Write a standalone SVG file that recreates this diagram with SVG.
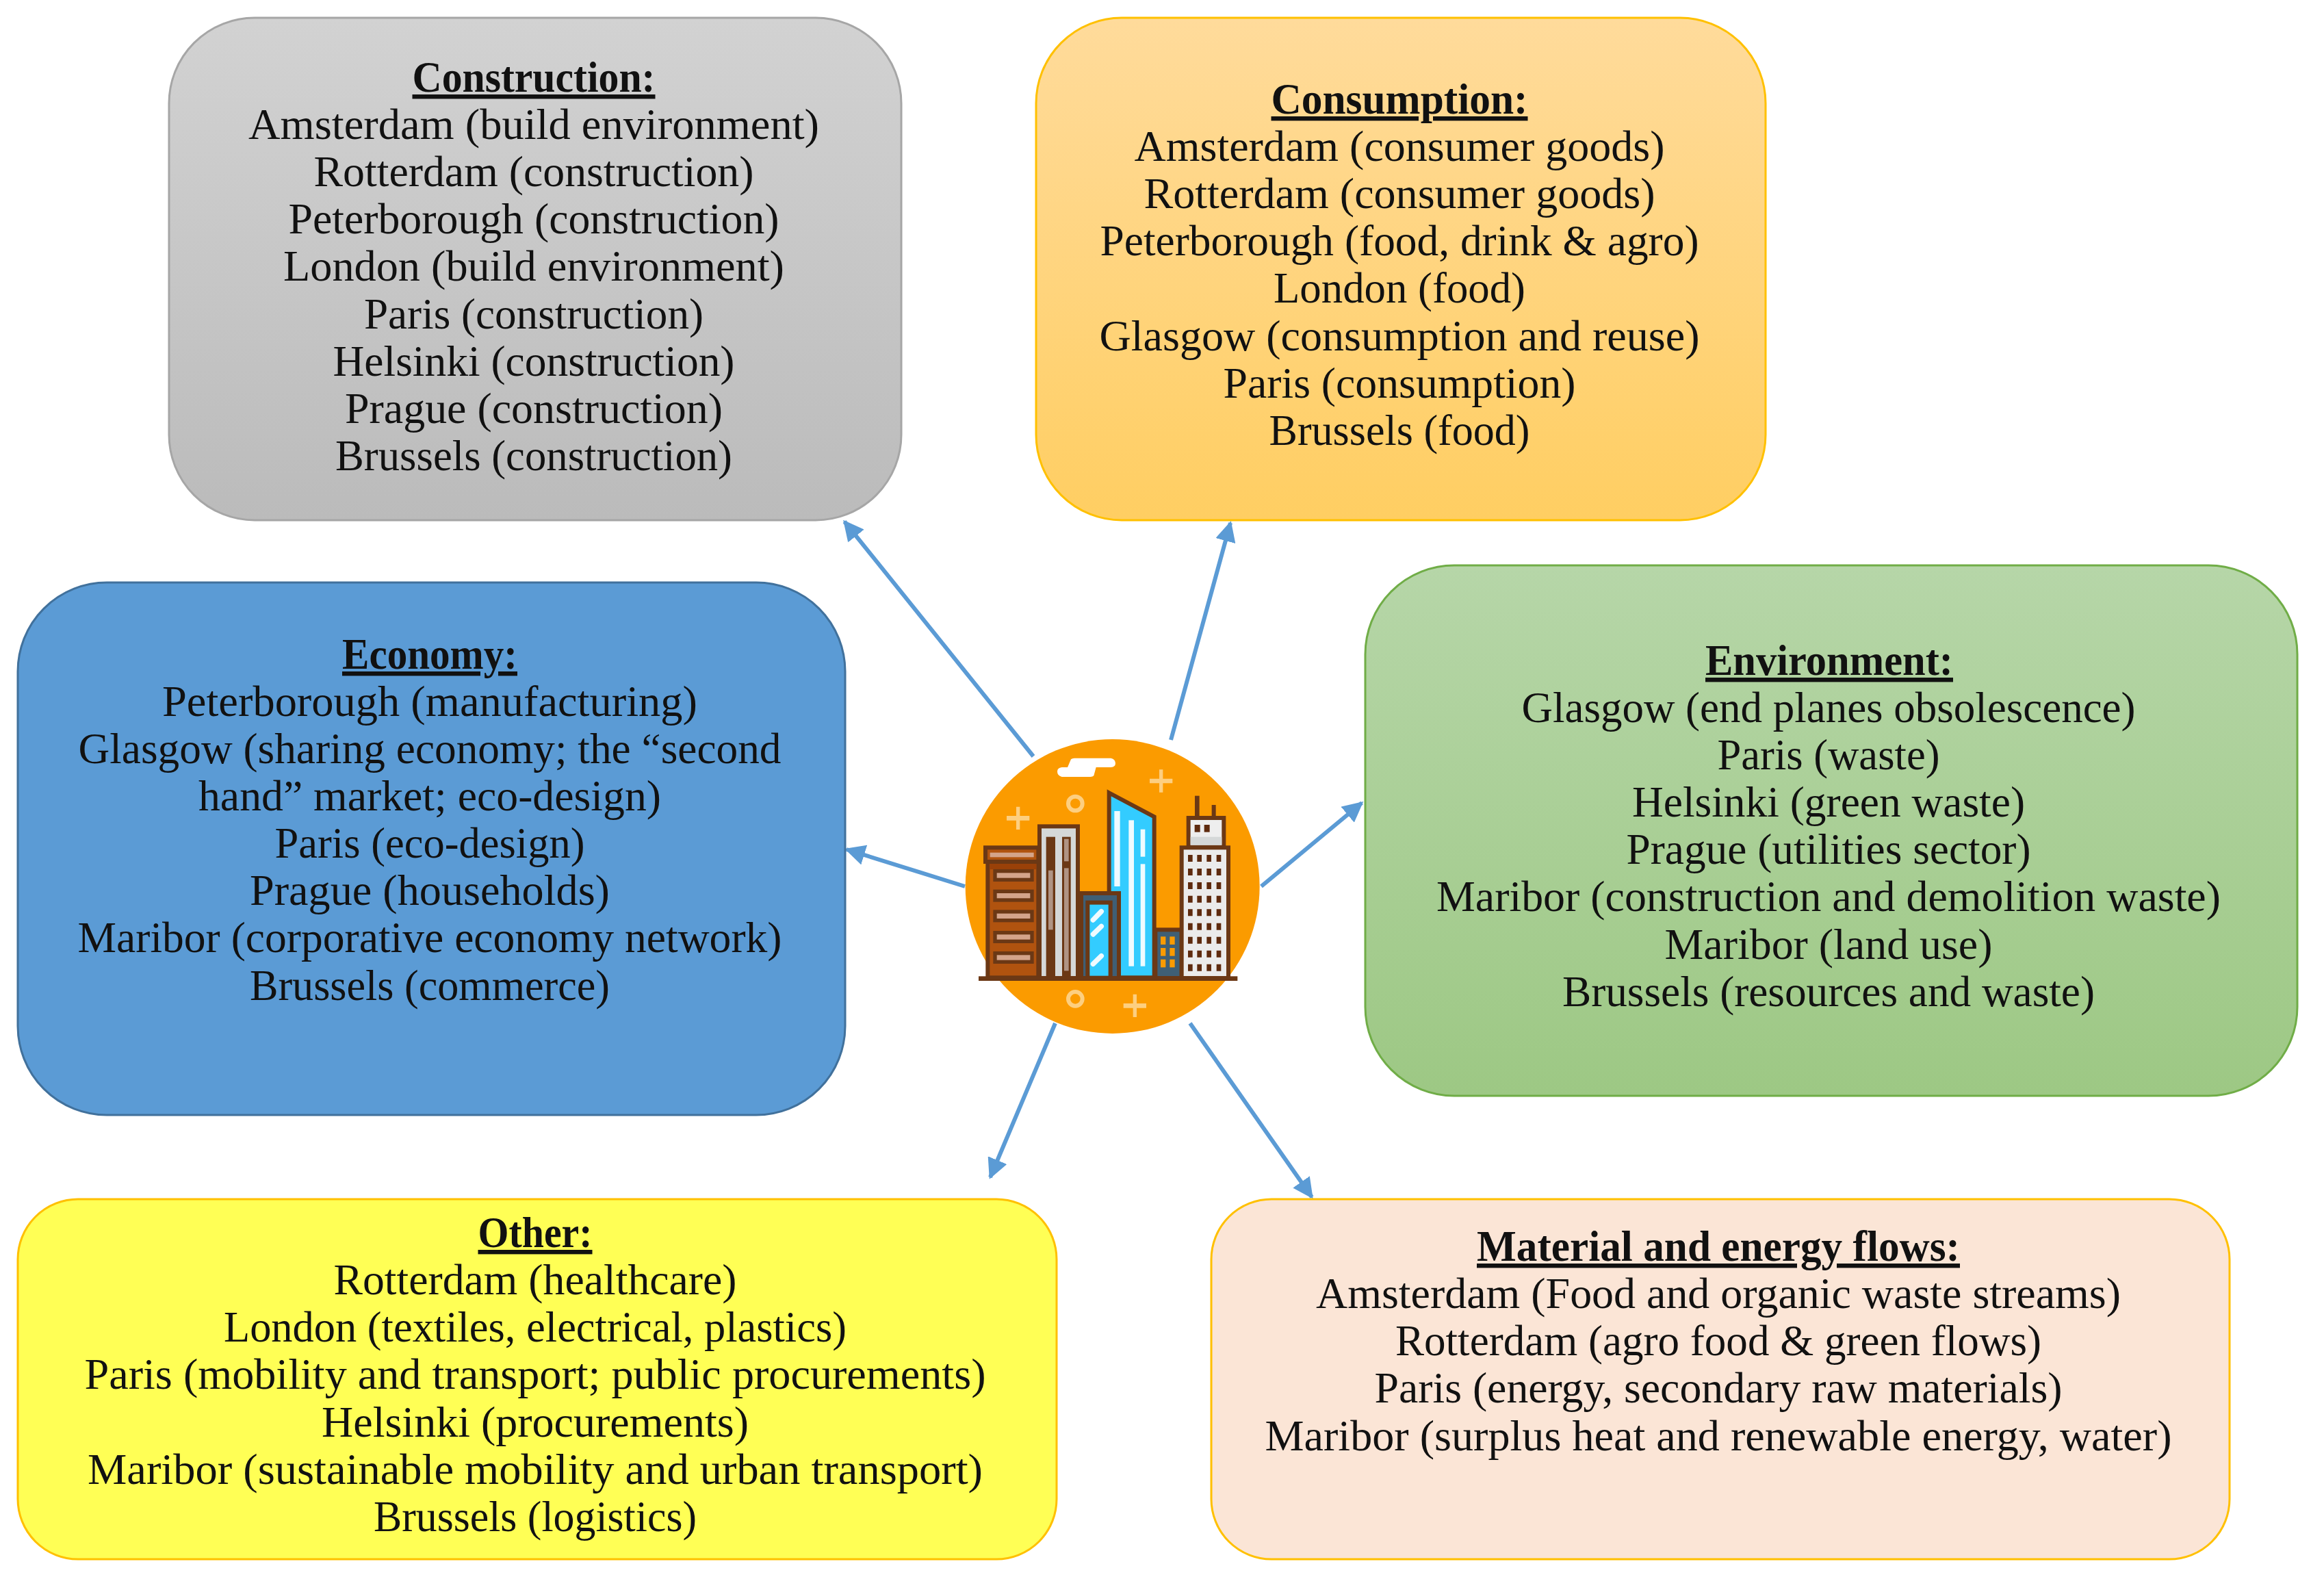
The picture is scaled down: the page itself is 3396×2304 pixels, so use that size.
<svg xmlns="http://www.w3.org/2000/svg" width="3396" height="2304" viewBox="0 0 3396 2304">
<style>
.box{stroke-width:3}
text{font-family:"Liberation Serif","DejaVu Serif",serif;font-size:64px;fill:#111;text-anchor:middle}
.h{font-weight:700;text-decoration:underline}
.conn line{stroke:#5B9BD5;stroke-width:6;marker-end:url(#arrow)}
.s{stroke:#6B3815;stroke-width:18}
.star{fill:#FDCF80}
.ring{fill:none;stroke:#FDCF80;stroke-width:18}
</style>
<defs>
<marker id="arrow" viewBox="0 0 10 10" refX="9" refY="5" markerWidth="5" markerHeight="5" orient="auto"><path d="M0 0L10 5L0 10z" fill="#5B9BD5"/></marker>
<linearGradient id="gGrey" x1="0" y1="0" x2="0" y2="1"><stop offset="0" stop-color="#D2D2D2"/><stop offset="1" stop-color="#BBBBBB"/></linearGradient>
<linearGradient id="gOrange" x1="0" y1="0" x2="0" y2="1"><stop offset="0" stop-color="#FFDB9B"/><stop offset="1" stop-color="#FFCE62"/></linearGradient>
<linearGradient id="gGreen" x1="0" y1="0" x2="0" y2="1"><stop offset="0" stop-color="#B6D6A8"/><stop offset="1" stop-color="#9DC884"/></linearGradient>
<path id="st" d="M-8-50H8V-10H50V10H8V50H-8V10H-50V-10H-8z"/>
</defs>
<rect width="3396" height="2304" fill="#fff"/>

<g id="connectors" class="conn">
<line x1="1510" y1="1105" x2="1234" y2="762"/>
<line x1="1711" y1="1081" x2="1798" y2="764"/>
<line x1="1410" y1="1295" x2="1237" y2="1241"/>
<line x1="1843" y1="1295" x2="1990" y2="1173"/>
<line x1="1542" y1="1495" x2="1447" y2="1720"/>
<line x1="1739" y1="1495" x2="1917" y2="1749"/>
</g>

<g id="construction">
<rect class="box" x="247" y="26" width="1070" height="734" rx="125" fill="url(#gGrey)" stroke="#A6A6A6"/>
<text class="h" x="780" y="134" textLength="355" lengthAdjust="spacingAndGlyphs">Construction:</text>
<text x="780" y="203" textLength="834" lengthAdjust="spacingAndGlyphs">Amsterdam (build environment)</text>
<text x="780" y="272" textLength="643" lengthAdjust="spacingAndGlyphs">Rotterdam (construction)</text>
<text x="780" y="341" textLength="717" lengthAdjust="spacingAndGlyphs">Peterborough (construction)</text>
<text x="780" y="410" textLength="732" lengthAdjust="spacingAndGlyphs">London (build environment)</text>
<text x="780" y="480" textLength="496" lengthAdjust="spacingAndGlyphs">Paris (construction)</text>
<text x="780" y="549" textLength="587" lengthAdjust="spacingAndGlyphs">Helsinki (construction)</text>
<text x="780" y="618" textLength="552" lengthAdjust="spacingAndGlyphs">Prague (construction)</text>
<text x="780" y="687" textLength="580" lengthAdjust="spacingAndGlyphs">Brussels (construction)</text>
</g>

<g id="consumption">
<rect class="box" x="1514" y="26" width="1066" height="734" rx="125" fill="url(#gOrange)" stroke="#FFC000"/>
<text class="h" x="2045" y="166" textLength="375" lengthAdjust="spacingAndGlyphs">Consumption:</text>
<text x="2045" y="235" textLength="775" lengthAdjust="spacingAndGlyphs">Amsterdam (consumer goods)</text>
<text x="2045" y="304" textLength="747" lengthAdjust="spacingAndGlyphs">Rotterdam (consumer goods)</text>
<text x="2045" y="373" textLength="875" lengthAdjust="spacingAndGlyphs">Peterborough (food, drink &amp; agro)</text>
<text x="2045" y="442" textLength="368" lengthAdjust="spacingAndGlyphs">London (food)</text>
<text x="2045" y="512" textLength="877" lengthAdjust="spacingAndGlyphs">Glasgow (consumption and reuse)</text>
<text x="2045" y="581" textLength="515" lengthAdjust="spacingAndGlyphs">Paris (consumption)</text>
<text x="2045" y="650" textLength="381" lengthAdjust="spacingAndGlyphs">Brussels (food)</text>
</g>

<g id="economy">
<rect class="box" x="26" y="851" width="1209" height="778" rx="130" fill="#5B9BD5" stroke="#41719C"/>
<text class="h" x="628" y="977" textLength="256" lengthAdjust="spacingAndGlyphs">Economy:</text>
<text x="628" y="1046" textLength="782" lengthAdjust="spacingAndGlyphs">Peterborough (manufacturing)</text>
<text x="628" y="1115" textLength="1027" lengthAdjust="spacingAndGlyphs">Glasgow (sharing economy; the “second</text>
<text x="628" y="1184" textLength="676" lengthAdjust="spacingAndGlyphs">hand” market; eco-design)</text>
<text x="628" y="1253" textLength="453" lengthAdjust="spacingAndGlyphs">Paris (eco-design)</text>
<text x="628" y="1322" textLength="526" lengthAdjust="spacingAndGlyphs">Prague (households)</text>
<text x="628" y="1391" textLength="1029" lengthAdjust="spacingAndGlyphs">Maribor (corporative economy network)</text>
<text x="628" y="1461" textLength="526" lengthAdjust="spacingAndGlyphs">Brussels (commerce)</text>
</g>

<g id="environment">
<rect class="box" x="1995" y="826" width="1362" height="775" rx="130" fill="url(#gGreen)" stroke="#70AD47"/>
<text class="h" x="2673" y="986" textLength="362" lengthAdjust="spacingAndGlyphs">Environment:</text>
<text x="2672" y="1055" textLength="897" lengthAdjust="spacingAndGlyphs">Glasgow (end planes obsolescence)</text>
<text x="2672" y="1124" textLength="325" lengthAdjust="spacingAndGlyphs">Paris (waste)</text>
<text x="2672" y="1193" textLength="574" lengthAdjust="spacingAndGlyphs">Helsinki (green waste)</text>
<text x="2672" y="1262" textLength="591" lengthAdjust="spacingAndGlyphs">Prague (utilities sector)</text>
<text x="2672" y="1331" textLength="1146" lengthAdjust="spacingAndGlyphs">Maribor (construction and demolition waste)</text>
<text x="2672" y="1401" textLength="479" lengthAdjust="spacingAndGlyphs">Maribor (land use)</text>
<text x="2672" y="1470" textLength="778" lengthAdjust="spacingAndGlyphs">Brussels (resources and waste)</text>
</g>

<g id="other">
<rect class="box" x="26" y="1752" width="1518" height="526" rx="88" fill="#FFFF55" stroke="#FFC000"/>
<text class="h" x="782" y="1822" textLength="167" lengthAdjust="spacingAndGlyphs">Other:</text>
<text x="782" y="1891" textLength="589" lengthAdjust="spacingAndGlyphs">Rotterdam (healthcare)</text>
<text x="782" y="1960" textLength="910" lengthAdjust="spacingAndGlyphs">London (textiles, electrical, plastics)</text>
<text x="782" y="2029" textLength="1317" lengthAdjust="spacingAndGlyphs">Paris (mobility and transport; public procurements)</text>
<text x="782" y="2099" textLength="624" lengthAdjust="spacingAndGlyphs">Helsinki (procurements)</text>
<text x="782" y="2168" textLength="1308" lengthAdjust="spacingAndGlyphs">Maribor (sustainable mobility and urban transport)</text>
<text x="782" y="2237" textLength="472" lengthAdjust="spacingAndGlyphs">Brussels (logistics)</text>
</g>

<g id="material">
<rect class="box" x="1770" y="1752" width="1488" height="526" rx="88" fill="#FBE5D6" stroke="#FFC000"/>
<text class="h" x="2511" y="1842" textLength="706" lengthAdjust="spacingAndGlyphs">Material and energy flows:</text>
<text x="2511" y="1911" textLength="1176" lengthAdjust="spacingAndGlyphs">Amsterdam (Food and organic waste streams)</text>
<text x="2511" y="1980" textLength="944" lengthAdjust="spacingAndGlyphs">Rotterdam (agro food &amp; green flows)</text>
<text x="2511" y="2049" textLength="1005" lengthAdjust="spacingAndGlyphs">Paris (energy, secondary raw materials)</text>
<text x="2511" y="2119" textLength="1325" lengthAdjust="spacingAndGlyphs">Maribor (surplus heat and renewable energy, water)</text>
</g>

<g id="city" transform="translate(1380 1050) scale(.33333)">
<circle cx="737" cy="735" r="645" fill="#FB9B00"/>
<path d="M495 232Q495 215 515 213H540L555 178Q560 173 570 173H730Q750 178 750 195Q750 212 730 213H665L655 250Q650 255 640 255H515Q495 250 495 232z" fill="#fff"/>
<use href="#st" x="323" y="436" class="star"/>
<use href="#st" x="950" y="273" class="star"/>
<use href="#st" x="835" y="1258" class="star"/>
<circle cx="574" cy="372" r="31" class="ring"/>
<circle cx="574" cy="1228" r="31" class="ring"/>

<rect x="190" y="625" width="222" height="510" fill="#B0530F" class="s"/>
<rect x="199" y="634" width="204" height="26" fill="#9A4108"/>
<rect x="180" y="565" width="232" height="62" fill="#B0530F" class="s"/>
<rect x="200" y="587" width="192" height="20" fill="#D4A48A"/>
<g fill="#D4A48A" stroke="#6B3815" stroke-width="16">
<rect x="222" y="668" width="162" height="38"/>
<rect x="222" y="757" width="162" height="38"/>
<rect x="222" y="846" width="162" height="38"/>
<rect x="222" y="938" width="162" height="38"/>
<rect x="222" y="1028" width="162" height="38"/>
</g>

<rect x="417" y="472" width="168" height="665" fill="#D5D8D8" class="s"/>
<rect x="446" y="518" width="40" height="617" fill="#6B3815"/>
<rect x="456" y="665" width="20" height="260" fill="#B09484"/>
<rect x="516" y="518" width="38" height="617" fill="#6B3815"/>
<rect x="525" y="527" width="20" height="98" fill="#B09484"/>
<rect x="525" y="655" width="20" height="450" fill="#B09484"/>

<path d="M722 325L920 430V1135H722z" fill="#33CCFF" class="s"/>
<g fill="#EFFBFF">
<rect x="745" y="405" width="25" height="330"/>
<rect x="808" y="445" width="23" height="640"/>
<rect x="860" y="485" width="20" height="120"/>
<rect x="860" y="637" width="20" height="448"/>
</g>
<rect x="600" y="765" width="165" height="372" fill="#3F5F75" class="s"/>
<rect x="628" y="806" width="100" height="330" fill="#33CCFF" class="s"/>
<g stroke="#EFFBFF" stroke-width="22" stroke-linecap="round">
<path d="M652 882L688 845M652 945L688 910M652 1075L688 1040"/>
</g>

<rect x="925" y="925" width="115" height="212" fill="#3F5F75" class="s"/>
<g fill="#FB9B00">
<rect x="948" y="955" width="22" height="35"/><rect x="988" y="955" width="22" height="35"/>
<rect x="948" y="1005" width="22" height="35"/><rect x="988" y="1005" width="22" height="35"/>
<rect x="948" y="1055" width="22" height="35"/><rect x="988" y="1055" width="22" height="35"/>
</g>

<rect x="1098" y="338" width="20" height="100" fill="#6B3815"/>
<rect x="1172" y="378" width="18" height="60" fill="#6B3815"/>
<rect x="1070" y="435" width="155" height="128" fill="#EEEEEE" class="s"/>
<rect x="1079" y="518" width="137" height="36" fill="#D5D8D8"/>
<rect x="1097" y="465" width="24" height="32" fill="#5E2A0E"/>
<rect x="1139" y="465" width="24" height="32" fill="#5E2A0E"/>
<rect x="1040" y="565" width="205" height="572" fill="#EBEBEB" class="s"/>
<path d="M1068 597h20v30h-20zM1108 597h20v30h-20zM1150 597h20v30h-20zM1193 597h20v30h-20zM1068 657h20v30h-20zM1108 657h20v30h-20zM1150 657h20v30h-20zM1193 657h20v30h-20zM1068 717h20v30h-20zM1108 717h20v30h-20zM1150 717h20v30h-20zM1193 717h20v30h-20zM1068 776h20v30h-20zM1108 776h20v30h-20zM1150 776h20v30h-20zM1193 776h20v30h-20zM1068 835h20v30h-20zM1108 835h20v30h-20zM1150 835h20v30h-20zM1193 835h20v30h-20zM1068 896h20v30h-20zM1108 896h20v30h-20zM1150 896h20v30h-20zM1193 896h20v30h-20zM1068 956h20v30h-20zM1108 956h20v30h-20zM1150 956h20v30h-20zM1193 956h20v30h-20zM1068 1016h20v30h-20zM1108 1016h20v30h-20zM1150 1016h20v30h-20zM1193 1016h20v30h-20zM1068 1076h20v30h-20zM1108 1076h20v30h-20zM1150 1076h20v30h-20zM1193 1076h20v30h-20z" fill="#5E2A0E"/>
<rect x="150" y="1129" width="1135" height="20" fill="#6B3815"/>
</g>
</svg>
